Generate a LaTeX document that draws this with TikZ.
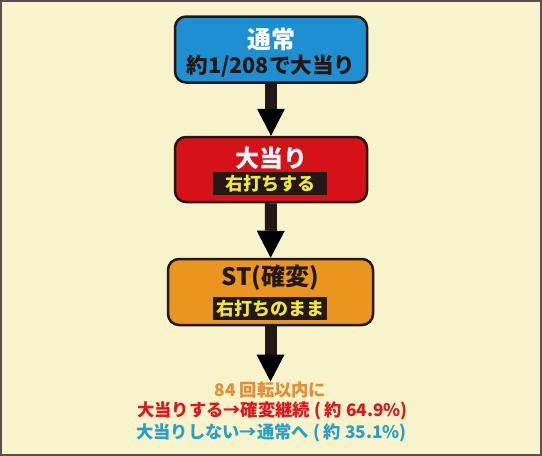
\documentclass[tikz,border=0pt]{standalone}
\usepackage{fontspec}
\setmainfont{Noto Sans CJK JP}
\usetikzlibrary{arrows.meta,positioning}
\definecolor{bgcream}{HTML}{F7F4CC}
\definecolor{framegray}{HTML}{5A4F4F}
\definecolor{boxblue}{HTML}{1E90D2}
\definecolor{boxred}{HTML}{D61218}
\definecolor{boxorange}{HTML}{EA961E}
\definecolor{inkdark}{HTML}{231815}
\definecolor{tagyellow}{HTML}{F2E63C}
\definecolor{txtorange}{HTML}{E88C32}
\definecolor{txtred}{HTML}{E2141E}
\definecolor{txtblue}{HTML}{28A0C8}

\begin{document}
\begin{tikzpicture}[x=1pt,y=-1pt,
	box/.style={draw=inkdark,line width=2.5pt,rounded corners=11pt,minimum width=192pt,minimum height=66pt,inner sep=0pt},
	title/.style={inner sep=0pt,font=\fontsize{24}{24}\selectfont\bfseries},
	tag/.style={fill=inkdark,text=tagyellow,minimum width=114pt,minimum height=23pt,inner sep=0pt,font=\fontsize{18}{18}\selectfont\bfseries},
	note/.style={inner sep=0pt,font=\fontsize{17.3}{17.3}\selectfont\bfseries},
	flow/.style={draw=inkdark,line width=12pt,-{Triangle[width=28pt,length=27pt,line width=0pt]}}]

	\fill[bgcream] (0,0) rectangle (542,456);
	\draw[framegray,line width=2pt] (1,1) rectangle (541,455);

	\node[box,fill=boxblue] (normal) at (271,49.5) {};
	\node[title,text=white] (normalT) at (271,39) {通常};
	\node[title,text=inkdark,font=\fontsize{21.6}{21.6}\selectfont\bfseries] (normalS) at (271,66) {約1/208で大当り};

	\node[box,fill=boxred,minimum height=65pt] (hit) at (271,169.5) {};
	\node[title,text=white] (hitT) at (271,158) {大当り};
	\node[tag] (hitS) at (270,183.5) {右打ちする};

	\node[box,fill=boxorange,minimum width=205pt] (st) at (270.5,292) {};
	\node[title,text=inkdark] (stT) at (270.5,277.5) {ST(確変)};
	\node[tag] (stS) at (270,308.5) {右打ちのまま};

	\node[note,text=txtorange] (within) at (270.5,390) {84 回転以内に};
	\node[note,text=txtred] (keep) at (272.5,411) {大当りする→確変継続 ( 約 64.9\%)};
	\node[note,text=txtblue] (back) at (271.5,433) {大当りしない→通常へ ( 約 35.1\%)};

	\path[flow]
		(normal) edge (hit)
		(hit) edge (st)
		(st) edge (within);
\end{tikzpicture}
\end{document}
